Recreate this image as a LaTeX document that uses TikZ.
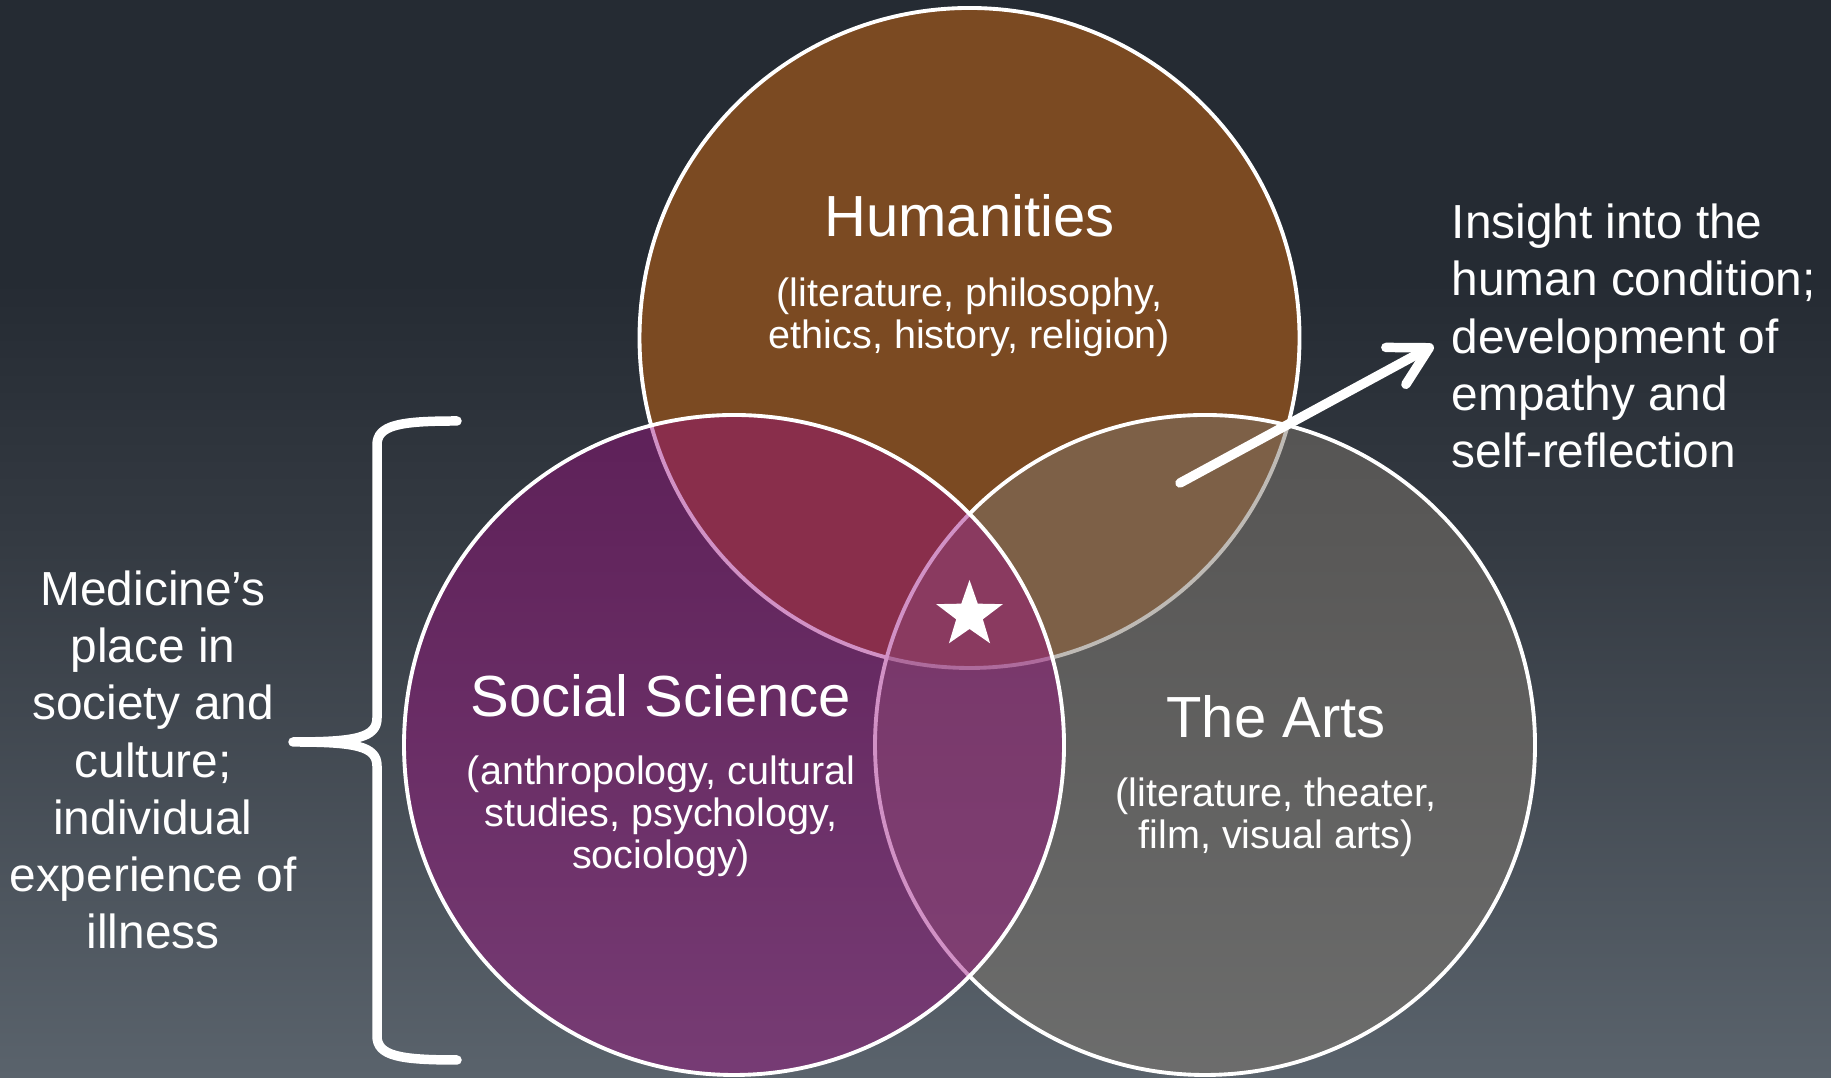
\documentclass[tikz,border=0pt]{standalone}
\usepackage{fontspec}
\setmainfont{Liberation Sans}
\usetikzlibrary{shapes.geometric,arrows.meta}

\definecolor{bgtop}{RGB}{37,43,51}
\definecolor{bgmid}{RGB}{52,58,66}
\definecolor{bgbot}{RGB}{90,99,108}
\definecolor{humbrown}{RGB}{123,74,34}
\definecolor{socpurple}{RGB}{155,13,127}
\definecolor{artgray}{RGB}{127,119,109}

\pgfdeclareverticalshading{slidebg}{100bp}{color(0bp)=(bgbot); color(25bp)=(bgbot); color(50bp)=(bgmid); color(62bp)=(bgtop); color(100bp)=(bgtop)}

\begin{document}
\begin{tikzpicture}[every node/.style={text=white,inner sep=0pt}]

\tikzstyle{disc}=[draw=white,line width=1.1pt]
\tikzstyle{title}=[font=\fontsize{16.5}{19}\selectfont,anchor=base]
\tikzstyle{fields}=[font=\fontsize{11.25}{11.9}\selectfont,align=center]
\tikzstyle{aside}=[font=\fontsize{13.6}{16.3}\selectfont]
\tikzstyle{thickwhite}=[white,line width=2.7pt,line cap=round,line join=round]

\useasboundingbox (0,0) rectangle (18.31,10.78);
\fill[shading=slidebg] (0,0) rectangle (18.31,10.78);

\coordinate (hum) at (9.695,7.40);
\coordinate (soc) at (7.34,3.33);
\coordinate (art) at (12.05,3.33);

% circles
\draw[disc,fill=humbrown] (hum) circle (3.30);
\draw[disc,fill=artgray,fill opacity=0.5] (art) circle (3.30);
\draw[disc,fill=socpurple,fill opacity=0.45] (soc) circle (3.30);

\node (humtitle) at (9.695,8.41)[title] {Humanities};
\node (humlist) at (9.695,7.61)[fields] {(literature, philosophy,\\ethics, history, religion)};
\node (soctitle) at (6.61,3.615)[title] {Social Science};
\node (soclist) at (6.61,2.615)[fields] {(anthropology, cultural\\studies, psychology,\\sociology)};
\node (arttitle) at (12.76,3.405)[title] {The Arts};
\node (artlist) at (12.76,2.61)[fields] {(literature, theater,\\film, visual arts)};

\node (core) at (9.695,4.63)[star,star points=5,star point ratio=2.5,fill=white,minimum size=0.70cm] {};

\node (medicine) at (1.53,3.18)[aside,align=center] {Medicine’s\\place in\\society and\\culture;\\individual\\experience of\\illness};
\node (insight) at (14.51,7.42)[aside,align=left,anchor=west] {Insight into the\\human condition;\\development of\\empathy and\\self-reflection};

% brace
\draw[thickwhite] (4.57,6.57) .. controls (4.00,6.57) and (3.77,6.53) .. (3.77,6.33) -- (3.77,3.60)
    .. controls (3.77,3.40) and (3.55,3.36) .. (2.93,3.36)
    .. controls (3.55,3.36) and (3.77,3.32) .. (3.77,3.12) -- (3.77,0.42)
    .. controls (3.77,0.22) and (4.00,0.18) .. (4.57,0.18);

% arrow
\coordinate (arrowtail) at (11.80,5.95);
\draw[thickwhite,-{Straight Barb[length=3.8mm,width=4.2mm,round]},shorten >=2mm] (arrowtail) -- (insight.west);
\end{tikzpicture}
\end{document}
